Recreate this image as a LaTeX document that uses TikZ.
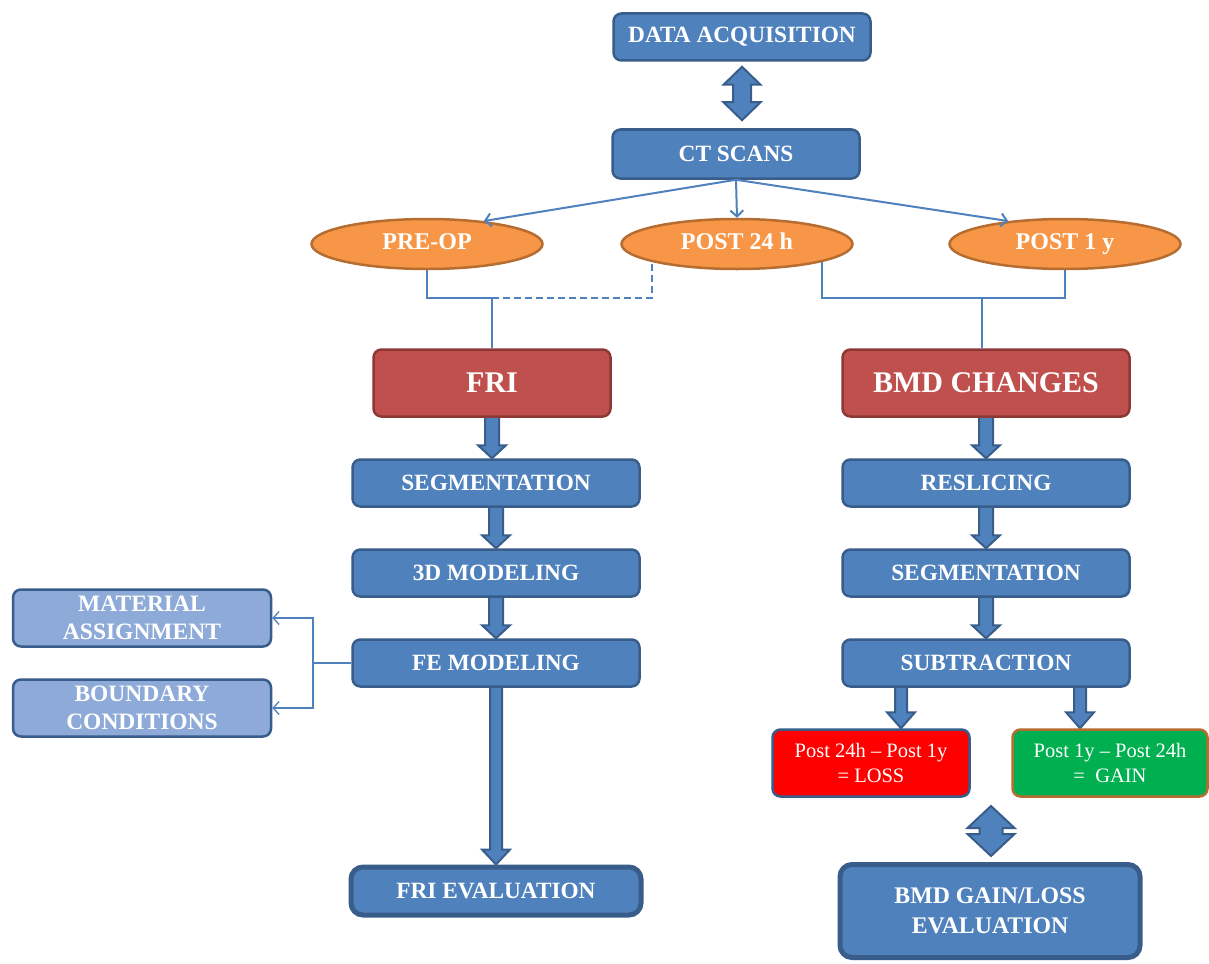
\documentclass[tikz,border=0pt]{standalone}
\usepackage{fontspec}
\setmainfont{Liberation Serif}
\usetikzlibrary{shapes.geometric,calc,arrows.meta}
\definecolor{bfill}{HTML}{4F81BD}
\definecolor{bborder}{HTML}{385D8A}
\definecolor{lfill}{HTML}{8DAAD8}
\definecolor{ofill}{HTML}{F79646}
\definecolor{oborder}{HTML}{B66D31}
\definecolor{rfill}{HTML}{C0504D}
\definecolor{rborder}{HTML}{8C3836}
\definecolor{lossfill}{HTML}{FF0000}
\definecolor{gainfill}{HTML}{00B050}
\definecolor{lcol}{HTML}{4F81BD}
\pgfdeclarelayer{bg}
\pgfsetlayers{bg,main}
% block arrow pointing down: #1 start, #2 tip, #3 shaft half width, #4 head half width, #5 head length
\newcommand\blkdown[5]{%
  \path[blk] let \p1=(#1), \p2=(#2) in
    ({\x1-#3},\y1) -- ({\x1-#3},{\y2+#5}) -- ({\x1-#4},{\y2+#5}) -- (\x1,\y2)
    -- ({\x1+#4},{\y2+#5}) -- ({\x1+#3},{\y2+#5}) -- ({\x1+#3},\y1) -- cycle;}
% double block arrow: #1 top tip, #2 bottom tip
\newcommand\blkboth[5]{%
  \path[blk] let \p1=(#1), \p2=(#2) in
    (\x1,\y1) -- ({\x1+#4},{\y1-#5}) -- ({\x1+#3},{\y1-#5}) -- ({\x1+#3},{\y2+#5})
    -- ({\x1+#4},{\y2+#5}) -- (\x1,\y2) -- ({\x1-#4},{\y2+#5}) -- ({\x1-#3},{\y2+#5})
    -- ({\x1-#3},{\y1-#5}) -- ({\x1-#4},{\y1-#5}) -- cycle;}
\tikzset{
  box/.style={draw=bborder, fill=bfill, line width=2.5pt, rounded corners=8pt,
    text=white, font=\fontsize{23.3}{28}\selectfont\bfseries, align=center, inner sep=2pt},
  redbox/.style={box, draw=rborder, fill=rfill, font=\fontsize{30}{34}\selectfont\bfseries},
  litebox/.style={box, fill=lfill, font=\fontsize{23.5}{28}\selectfont\bfseries},
  evalbox/.style={box, line width=5pt, rounded corners=12pt},
  resbox/.style={box, font=\fontsize{20.5}{25}\selectfont},
  oval/.style={ellipse, draw=oborder, fill=ofill, line width=2.5pt, text=white,
    font=\fontsize{24}{28}\selectfont\bfseries, minimum width=231, minimum height=50,
    inner sep=0pt, text height=16pt, text depth=5pt},
  conn/.style={draw=lcol, line width=2pt},
  thinconn/.style={draw=lcol, line width=1.3pt},
  openhead/.style={-{Straight Barb[length=6pt,width=13pt]}},
  blk/.style={fill=bfill, draw=bborder, line width=2pt, line join=miter},
}
\begin{document}
\begin{tikzpicture}[x=1pt,y=-1pt]
\useasboundingbox (0,0) rectangle (1209,963);
\begin{pgfonlayer}{bg}
\fill[white] (0,0) rectangle (1209,963);
\end{pgfonlayer}

% nodes
\node[box, minimum width=257, minimum height=47] (data) at (742,37) {DATA ACQUISITION};
\node[box, minimum width=247, minimum height=49] (ct) at (736,154) {CT SCANS};
\node[oval] (preop) at (427,244) {PRE-OP};
\node[oval] (post24) at (737,244) {POST 24 h};
\node[oval] (post1y) at (1065,244) {POST 1 y};
\node[redbox, minimum width=237, minimum height=67] (fri) at (492,383) {FRI};
\node[redbox, minimum width=287, minimum height=67] (bmd) at (986,383) {BMD CHANGES};
\node[box, minimum width=287, minimum height=47] (seg) at (496,483) {SEGMENTATION};
\node[box, minimum width=287, minimum height=47] (mod) at (496,573) {3D MODELING};
\node[box, minimum width=287, minimum height=47] (fe) at (496,663) {FE MODELING};
\node[evalbox, minimum width=290, minimum height=48] (frieval) at (496,891) {FRI EVALUATION};
\node[litebox, minimum width=258, minimum height=57] (mat) at (142,618) {MATERIAL\\ASSIGNMENT};
\node[litebox, minimum width=258, minimum height=57] (bc) at (142,708) {BOUNDARY\\CONDITIONS};
\node[box, minimum width=287, minimum height=47] (resl) at (986,483) {RESLICING};
\node[box, minimum width=287, minimum height=47] (seg2) at (986,573) {SEGMENTATION};
\node[box, minimum width=287, minimum height=47] (sub) at (986,663) {SUBTRACTION};
\node[resbox, fill=lossfill, minimum width=197, minimum height=67] (loss) at (871,763) {Post 24h -- Post 1y\\= LOSS};
\node[resbox, fill=gainfill, draw=oborder, minimum width=195, minimum height=67] (gain) at (1110,763) {Post 1y -- Post 24h\\= \ GAIN};
\node[evalbox, minimum width=300, minimum height=93, font=\fontsize{23.8}{30}\selectfont\bfseries] (eval2) at (990,911) {BMD GAIN/LOSS\\EVALUATION};

% thin connectors
\draw[conn,openhead] (ct.south) -- (preop.22);
\draw[conn,openhead] (ct.south) -- (post24.north);
\draw[conn,openhead] (ct.south) -- (post1y.158);
\coordinate (j1) at (492,298);
\coordinate (j2) at (982,298);
\draw[conn] (preop.south) |- (j1) -- (j1 |- fri.north);
\draw[conn, dash pattern=on 7pt off 4pt] (j1) -| (post24.192);
\draw[conn] (post24.348) |- (j2) -| (post1y.south);
\draw[conn] (j2) -- (j2 |- bmd.north);
\coordinate (j3) at (313,663);
\draw[thinconn] (fe.west) -- (j3);
\draw[thinconn,openhead] (j3) |- (mat.east);
\draw[thinconn,openhead] (j3) |- (bc.east);

% block arrows
\coordinate (xl) at (901,0);
\coordinate (xg) at (1080,0);
\coordinate (dtop) at (991,806);
\begin{pgfonlayer}{bg}
\blkboth{$(data.south)+(0,5)$}{$(ct.north)+(0,-8)$}{9pt}{18.5pt}{18pt}
\blkdown{$(fri.south)+(0,-4)$}{seg.north}{7pt}{14pt}{13pt}
\blkdown{$(seg.south)+(0,-4)$}{mod.north}{7pt}{14pt}{13pt}
\blkdown{$(mod.south)+(0,-4)$}{fe.north}{7pt}{14pt}{13pt}
\blkdown{$(fe.south)+(0,-4)$}{frieval.north}{6pt}{14pt}{15pt}
\blkdown{$(bmd.south)+(0,-4)$}{resl.north}{7pt}{14pt}{13pt}
\blkdown{$(resl.south)+(0,-4)$}{seg2.north}{7pt}{14pt}{13pt}
\blkdown{$(seg2.south)+(0,-4)$}{sub.north}{7pt}{14pt}{13pt}
\blkdown{$(sub.south -| xl)+(0,-4)$}{loss.north -| xl}{6pt}{14pt}{16pt}
\blkdown{$(sub.south -| xg)+(0,-4)$}{gain.north -| xg}{6pt}{14pt}{16pt}
\blkboth{dtop}{$(eval2.north)+(0,-6)$}{11.5pt}{23.5pt}{22pt}
\end{pgfonlayer}
\end{tikzpicture}
\end{document}
